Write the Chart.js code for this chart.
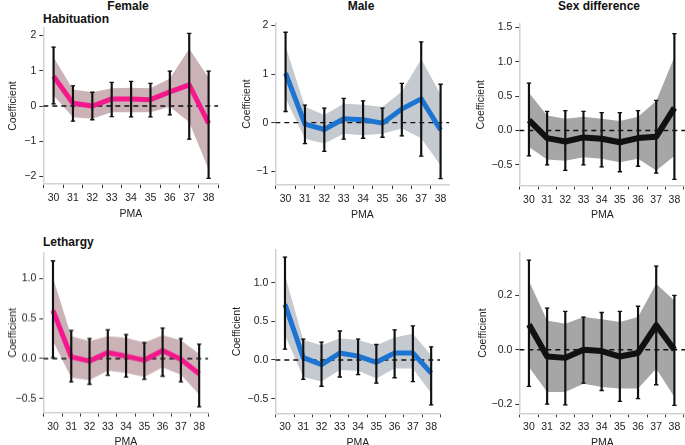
<!DOCTYPE html>
<html>
<head>
<meta charset="utf-8">
<script src="https://cdn.jsdelivr.net/npm/chart.js@4.4.0/dist/chart.umd.min.js"></script>
<style>
  html, body { margin: 0; padding: 0; background: #fff; }
  body { width: 685px; height: 445px; position: relative; overflow: hidden; font-family: "Liberation Sans", Arial, sans-serif; }
  .panel { position: absolute; }
  .ttl { position: absolute; font-weight: bold; font-size: 12px; line-height: 12px; color: #111; white-space: nowrap; }
  .ctr { transform: translateX(-50%); }
</style>
</head>
<body>

<div class="ttl ctr" style="left:128px; top:-0.5px;">Female</div>
<div class="ttl ctr" style="left:361px; top:-0.5px;">Male</div>
<div class="ttl ctr" style="left:599px; top:-0.5px;">Sex difference</div>
<div class="ttl" style="left:43px; top:13px;">Habituation</div>
<div class="ttl" style="left:43px; top:236px;">Lethargy</div>

<div class="panel" id="w1"><canvas id="c1"></canvas></div>
<div class="panel" id="w2"><canvas id="c2"></canvas></div>
<div class="panel" id="w3"><canvas id="c3"></canvas></div>
<div class="panel" id="w4"><canvas id="c4"></canvas></div>
<div class="panel" id="w5"><canvas id="c5"></canvas></div>
<div class="panel" id="w6"><canvas id="c6"></canvas></div>

<script>
// categories
var pma = [30, 31, 32, 33, 34, 35, 36, 37, 38];

// Habituation - female
var habFemaleEst    = [0.84, 0.08, 0.00, 0.20, 0.20, 0.18, 0.40, 0.60, -0.49];
var habFemaleBandLo = [0.30, -0.32, -0.36, -0.18, -0.18, -0.18, -0.02, -0.46, -1.80];
var habFemaleBandHi = [1.38, 0.47, 0.39, 0.50, 0.52, 0.50, 0.78, 1.62, 0.80];
var habFemaleErrLo  = [0.06, -0.43, -0.39, -0.30, -0.31, -0.31, -0.25, -0.94, -2.05];
var habFemaleErrHi  = [1.67, 0.57, 0.39, 0.67, 0.70, 0.64, 0.99, 2.06, 0.99];

// Habituation - male
var habMaleEst    = [1.02, -0.03, -0.14, 0.08, 0.06, -0.01, 0.28, 0.49, -0.15];
var habMaleBandLo = [0.50, -0.33, -0.43, -0.23, -0.26, -0.23, -0.12, -0.32, -0.88];
var habMaleBandHi = [1.57, 0.33, 0.16, 0.39, 0.37, 0.32, 0.64, 1.31, 0.58];
var habMaleErrLo  = [0.23, -0.43, -0.59, -0.34, -0.32, -0.30, -0.27, -0.69, -1.15];
var habMaleErrHi  = [1.86, 0.36, 0.30, 0.50, 0.45, 0.30, 0.81, 1.66, 0.79];

// Habituation - sex difference
var habDiffEst    = [0.15, -0.11, -0.16, -0.10, -0.12, -0.17, -0.11, -0.09, 0.33];
var habDiffBandLo = [-0.24, -0.42, -0.44, -0.39, -0.41, -0.46, -0.41, -0.58, -0.37];
var habDiffBandHi = [0.55, 0.22, 0.17, 0.20, 0.17, 0.14, 0.20, 0.43, 1.07];
var habDiffErrLo  = [-0.37, -0.50, -0.58, -0.50, -0.53, -0.60, -0.52, -0.62, -0.71];
var habDiffErrHi  = [0.69, 0.28, 0.29, 0.28, 0.26, 0.26, 0.29, 0.44, 1.41];

// Lethargy - female
var letFemaleEst    = [0.60, 0.02, -0.03, 0.075, 0.03, -0.02, 0.10, -0.01, -0.19];
var letFemaleBandLo = [0.22, -0.24, -0.27, -0.15, -0.18, -0.23, -0.11, -0.20, -0.45];
var letFemaleBandHi = [1.01, 0.28, 0.22, 0.28, 0.26, 0.20, 0.29, 0.23, 0.06];
var letFemaleErrLo  = [0.01, -0.29, -0.32, -0.21, -0.23, -0.26, -0.22, -0.29, -0.60];
var letFemaleErrHi  = [1.22, 0.35, 0.25, 0.36, 0.30, 0.20, 0.38, 0.25, 0.18];

// Lethargy - male
var letMaleEst    = [0.72, 0.03, -0.06, 0.09, 0.05, -0.03, 0.09, 0.09, -0.17];
var letMaleBandLo = [0.32, -0.22, -0.28, -0.13, -0.14, -0.24, -0.11, -0.11, -0.43];
var letMaleBandHi = [1.10, 0.26, 0.19, 0.28, 0.26, 0.19, 0.29, 0.34, 0.06];
var letMaleErrLo  = [0.14, -0.25, -0.34, -0.22, -0.19, -0.30, -0.23, -0.28, -0.58];
var letMaleErrHi  = [1.33, 0.27, 0.23, 0.375, 0.27, 0.20, 0.39, 0.44, 0.17];

// Lethargy - sex difference
var letDiffEst    = [0.093, -0.025, -0.03, 0.0, -0.005, -0.025, -0.012, 0.09, 0.0];
var letDiffBandLo = [-0.064, -0.156, -0.156, -0.125, -0.137, -0.143, -0.143, -0.07, -0.174];
var letDiffBandHi = [0.253, 0.108, 0.096, 0.12, 0.112, 0.102, 0.12, 0.243, 0.18];
var letDiffErrLo  = [-0.135, -0.20, -0.203, -0.123, -0.15, -0.19, -0.18, -0.129, -0.205];
var letDiffErrHi  = [0.33, 0.153, 0.141, 0.12, 0.137, 0.141, 0.16, 0.308, 0.20];

// tick values
var habFemaleTicks = [-2, -1, 0, 1, 2];
var habMaleTicks   = [-1, 0, 1, 2];
var habDiffTicks   = [-0.5, 0, 0.5, 1, 1.5];
var letFemaleTicks = [-0.5, 0, 0.5, 1];
var letMaleTicks   = [-0.5, 0, 0.5, 1];
var letDiffTicks   = [-0.2, 0, 0.2];

var pink = '#f5178c', blue = '#1c74d2', black = '#111111';
var pinkBand = '#cbb2b7', blueBand = '#c5cad0', greyBand = '#a6a6a6';
var FONT = '"Liberation Sans", Arial, sans-serif';

function fmt(v, dec) {
  return v.toFixed(dec).replace('-', '\u2212');
}

function panel(n, box, yMin, yMax, xMax, yTicks, dec, est, bLo, bHi, eLo, eHi, col, band, lw) {
  var xMin = 29.47;
  var scaleLeft = box.titleX - 6.3;
  var yw = box.left - scaleLeft;
  var xh = 36;
  var wrap = document.getElementById('w' + n);
  wrap.style.left = scaleLeft + 'px';
  wrap.style.top = (box.top - 12) + 'px';
  wrap.style.width = (box.right + 12 - scaleLeft) + 'px';
  wrap.style.height = (box.bottom + xh - box.top + 12) + 'px';

  var pts = function (arr) { return pma.map(function (x, i) { return {x: x, y: arr[i]}; }); };
  var caps = pts(eLo).concat(pts(eHi));
  var bars = pma.map(function (x, i) { return {x: x, y: [eLo[i], eHi[i]]}; });

  var axisBase = {
    grid: { display: true, drawOnChartArea: false, drawTicks: true, tickLength: 4, tickColor: '#333', tickWidth: 1 },
    border: { display: true, color: '#d2d2d2', width: 1.5 }
  };

  new Chart(document.getElementById('c' + n), {
    type: 'line',
    data: {
      datasets: [
        { data: pts(bLo), borderWidth: 0, pointRadius: 0, fill: false, order: 5 },
        { data: pts(bHi), borderWidth: 0, pointRadius: 0, fill: '-1', backgroundColor: band, order: 5 },
        { data: [{x: xMin, y: 0}, {x: xMax, y: 0}], borderColor: black, borderWidth: 1.4, borderDash: [5, 4], pointRadius: 0, order: 4 },
        { data: pts(est), borderColor: col, borderWidth: lw, pointRadius: 0, borderJoinStyle: 'round', borderCapStyle: 'butt', order: 3 },
        { type: 'bar', data: bars, backgroundColor: black, barThickness: 1.5, order: 2 },
        { data: caps, showLine: false, pointStyle: 'line', pointRadius: 2.2, pointBorderColor: black, pointBorderWidth: 1.3, order: 1 }
      ]
    },
    options: {
      responsive: true,
      maintainAspectRatio: false,
      animation: false,
      events: [],
      layout: { padding: { top: 12, right: 12, left: 0, bottom: 0 } },
      plugins: { legend: { display: false }, tooltip: { enabled: false } },
      scales: {
        x: Object.assign({
          type: 'linear', min: xMin, max: xMax, offset: false,
          afterBuildTicks: function (s) { s.ticks = pma.map(function (v) { return {value: v}; }); },
          afterFit: function (s) { s.height = xh; },
          ticks: { padding: 4, color: '#222', font: { family: FONT, size: 10.5 }, maxRotation: 0, autoSkip: false,
                   callback: function (v) { return String(v); } },
          title: { display: true, text: 'PMA', color: '#222', padding: 0, font: { family: FONT, size: 10.5 } }
        }, axisBase),
        y: Object.assign({
          type: 'linear', min: yMin, max: yMax,
          afterBuildTicks: function (s) { s.ticks = yTicks.map(function (v) { return {value: v}; }); },
          afterFit: function (s) { s.width = yw; },
          ticks: { padding: 3, color: '#222', font: { family: FONT, size: 10.5 },
                   callback: function (v) { return fmt(v, dec); } },
          title: { display: true, text: 'Coefficient', color: '#222', padding: 0, font: { family: FONT, size: 10.5 } }
        }, axisBase)
      }
    }
  });
}

panel(1, {left: 43, right: 218, top: 28, bottom: 184, titleX: 13}, -2.21, 2.21, 38.5, habFemaleTicks, 0,
  habFemaleEst, habFemaleBandLo, habFemaleBandHi, habFemaleErrLo, habFemaleErrHi, pink, pinkBand, 5);
panel(2, {left: 275, right: 449, top: 23, bottom: 185, titleX: 247}, -1.282, 2.05, 38.45, habMaleTicks, 0,
  habMaleEst, habMaleBandLo, habMaleBandHi, habMaleErrLo, habMaleErrHi, blue, blueBand, 5);
panel(3, {left: 519, right: 685, top: 23.5, bottom: 185, titleX: 481}, -0.80, 1.55, 38.6, habDiffTicks, 1,
  habDiffEst, habDiffBandLo, habDiffBandHi, habDiffErrLo, habDiffErrHi, black, greyBand, 6);
panel(4, {left: 43, right: 208, top: 253, bottom: 411.7, titleX: 13}, -0.674, 1.317, 38.5, letFemaleTicks, 1,
  letFemaleEst, letFemaleBandLo, letFemaleBandHi, letFemaleErrLo, letFemaleErrHi, pink, pinkBand, 5);
panel(5, {left: 275, right: 440, top: 250, bottom: 413.3, titleX: 237}, -0.69, 1.423, 38.5, letMaleTicks, 1,
  letMaleEst, letMaleBandLo, letMaleBandHi, letMaleErrLo, letMaleErrHi, blue, blueBand, 5);
panel(6, {left: 519, right: 685, top: 253, bottom: 413.3, titleX: 483}, -0.234, 0.356, 38.6, letDiffTicks, 1,
  letDiffEst, letDiffBandLo, letDiffBandHi, letDiffErrLo, letDiffErrHi, black, greyBand, 6);
</script>
</body>
</html>
